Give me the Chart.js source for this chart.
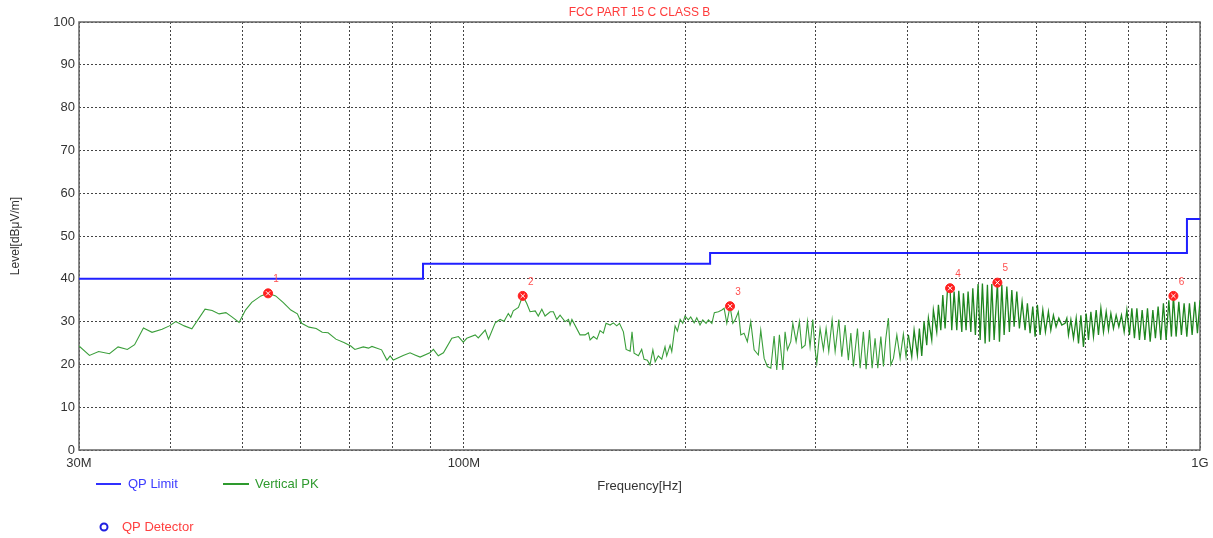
<!DOCTYPE html>
<html><head><meta charset="utf-8">
<script src="https://cdn.jsdelivr.net/npm/chart.js@4"></script>
<style>html,body{margin:0;padding:0;background:#fff;overflow:hidden}canvas{display:block}</style>
</head><body>
<canvas id="c" width="1213" height="538"></canvas>
<script>
const chartTitle = 'FCC PART 15 C CLASS B';
const xAxisTitle = 'Frequency[Hz]';
const yAxisTitle = 'Level[dBμV/m]';
const xTickValues = [30,40,50,60,70,80,90,100,200,300,400,500,600,700,800,900,1000];
const xTickLabels = {30:'30M',100:'100M',1000:'1G'};
const limitFreq = [30, 88, 88, 216, 216, 960, 960, 1000];
const limitLevel = [40, 40, 43.5, 43.5, 46, 46, 54, 54];
const pkFreq = [
30.0,31.0,31.9,33.0,33.9,34.9,35.7,36.7,37.7,38.9,39.8,40.6,41.7,42.7,44.5,45.5,46.5,47.5,48.5,49.5,
50.5,51.5,53.0,54.2,55.5,56.8,58.2,59.4,60.2,61.6,63.0,64.2,65.4,67.0,68.7,70.2,71.1,73.0,74.2,75.0,
77.3,78.6,79.4,80.2,82.7,84.5,85.8,87.2,89.9,90.9,92.3,93.8,96.3,98.3,99.8,100.9,103.6,104.6,106.9,108.0,
110.3,112.0,113.4,114.9,115.8,116.7,118.6,120.2,121.7,123.0,125.0,126.2,127.6,128.9,131.0,132.3,133.7,135.1,137.2,138.7,
139.4,140.2,143.8,146.1,147.6,148.4,150.0,151.6,153.1,154.7,156.0,158.0,159.6,161.3,162.7,164.7,166.1,168.2,169.2,170.3,
172.6,174.4,175.7,177.5,179.0,180.6,181.9,183.7,185.7,187.6,188.6,190.6,191.6,193.6,195.0,196.7,198.3,199.7,201.8,203.3,
205.5,207.2,209.3,211.1,213.3,214.9,217.2,218.9,221.7,224.1,225.7,227.6,229.9,231.9,233.6,236.0,237.8,240.2,242.7,245.3,
247.9,251.2,253.1,255.8,258.4,261.2,263.9,266.1,268.3,271.2,273.1,275.1,278.0,279.8,282.7,285.6,287.8,290.8,292.9,295.3,
297.8,300.0,301.6,304.7,307.9,310.5,313.1,316.4,319.4,323.1,326.1,329.5,332.9,335.5,338.2,342.5,345.4,348.9,351.9,355.6,
358.6,361.9,365.0,368.5,371.5,374.3,377.3,380.2,383.3,387.4,391.4,395.4,398.7,401.6,405.9,408.9,413.1,415.7,418.8,421.8,
425.4,427.6,432.1,434.3,438.9,441.2,444.5,447.3,450.5,453.8,457.6,460.0,463.4,467.3,470.2,474.7,477.1,481.1,484.1,488.3,
491.3,495.3,499.5,502.7,506.3,510.6,514.3,517.5,521.4,525.2,530.6,534.0,538.0,541.9,546.5,550.9,555.1,559.1,563.8,568.4,
573.2,578.6,582.8,587.7,592.7,597.0,601.3,606.4,611.6,616.6,622.4,627.1,632.2,637.5,643.0,649.0,655.7,659.3,662.7,667.7,
673.2,678.9,683.8,688.9,694.5,700.4,705.5,710.8,716.6,722.7,727.9,733.4,739.4,745.7,751.1,756.7,762.8,769.3,775.8,782.2,
788.8,795.5,802.0,808.0,814.6,820.8,827.5,834.5,841.6,848.5,855.7,862.9,869.8,877.2,884.6,891.9,899.4,907.1,914.5,920.2,
928.0,935.9,943.5,951.5,959.6,967.5,975.7,983.9,992.0,1000
];
const pkLevel = [
24.3,22.1,23.0,22.5,24.1,23.5,24.6,28.5,27.5,28.2,29.0,30.0,29.0,28.3,32.9,32.6,31.8,32.1,31.0,29.8,
32.7,34.5,36.0,36.6,36.0,34.5,32.7,31.8,29.6,28.7,28.4,27.5,27.4,25.9,25.1,24.3,23.5,24.1,23.8,24.2,
23.4,21.0,22.0,21.0,22.1,22.7,22.2,21.7,22.7,23.5,22.0,22.7,26.1,26.5,25.2,26.1,26.9,26.2,28.0,25.9,
29.7,30.5,30.1,31.9,31.0,32.5,33.3,36.0,34.3,32.3,32.5,31.3,32.9,31.3,32.3,32.3,30.5,31.5,30.0,30.5,
29.2,30.5,26.9,26.9,27.4,25.7,26.5,25.9,27.9,27.3,29.6,29.2,29.7,29.0,29.6,27.6,23.5,23.1,27.6,22.6,
22.0,23.5,21.2,21.0,19.9,23.4,20.6,22.0,21.2,24.1,22.0,24.5,23.0,29.0,27.8,30.5,29.6,31.3,30.4,31.1,
29.7,30.9,29.2,30.4,29.6,30.4,29.6,32.1,32.3,32.7,33.1,29.6,33.6,29.6,30.4,32.3,26.9,27.3,25.3,30.0,
23.4,22.2,28.0,21.4,19.5,19.1,26.6,18.7,26.9,18.7,27.6,23.4,25.3,29.6,25.3,30.0,23.8,24.5,30.0,24.1,
30.5,23.4,20.3,28.4,23.4,28.4,23.0,30.4,23.0,30.5,21.8,29.2,21.0,27.3,19.5,28.4,19.1,27.6,18.9,28.0,
19.1,26.1,19.1,26.5,19.5,26.1,30.8,19.9,21.4,26.9,21.4,27.1,21.8,26.9,21.8,28.0,22.2,28.4,22.0,30.0,
24.5,30.8,25.7,32.7,27.6,33.9,28.0,36.2,28.4,37.2,37.8,28.0,37.0,28.0,37.2,27.6,36.6,28.0,37.0,27.6,
37.8,26.9,38.8,25.7,38.9,24.9,38.6,25.3,38.8,25.7,39.1,25.3,38.6,26.9,38.2,27.6,37.4,28.8,37.0,28.4,
34.6,28.0,34.3,27.3,33.5,26.5,33.9,26.9,32.7,27.6,32.3,28.0,31.5,28.8,30.8,29.2,29.6,30.8,26.9,30.4,
26.1,30.8,24.9,31.5,24.1,31.9,25.7,32.3,26.5,32.7,26.9,33.1,27.6,32.3,28.0,31.9,28.4,31.5,28.8,31.5,
27.6,32.7,26.9,33.1,26.1,33.1,25.7,32.7,25.7,33.1,25.3,32.7,26.1,33.5,25.7,34.3,25.7,35.0,26.5,36.0,
26.5,34.6,26.9,34.3,26.5,34.3,26.9,34.6,27.3,35.0
];
const markerFreq = [54.2, 120.2, 229.9, 457.6, 530.6, 920.2];
const markerLevel = [36.6, 36.0, 33.6, 37.8, 39.1, 36.0];
const markerLabels = ['1','2','3','4','5','6'];

const FONT = "'Liberation Sans', Arial, sans-serif";
Chart.defaults.font.family = FONT;

const toXY = (xs, ys) => xs.map((x, i) => ({x, y: ys[i]}));

const overlay = {
  id: 'overlay',
  beforeDatasetsDraw(chart) {
    const {ctx, chartArea: a} = chart;
    ctx.save();
    ctx.strokeStyle = '#666';
    ctx.lineWidth = 1.5;
    ctx.strokeRect(a.left, a.top, a.right - a.left, a.bottom - a.top);
    ctx.restore();
  },
  afterDraw(chart) {
    const {ctx, chartArea: a, scales} = chart;
    ctx.save();
    ctx.fillStyle = '#ff3b3b';
    ctx.font = '12px ' + FONT;
    ctx.textAlign = 'center';
    ctx.textBaseline = 'middle';
    ctx.fillText(chartTitle, (a.left + a.right) / 2, 13);
    ctx.font = '10px ' + FONT;
    ctx.fillStyle = '#ff5050';
    markerFreq.forEach((f, i) => {
      const px = scales.x.getPixelForValue(f);
      const py = scales.y.getPixelForValue(markerLevel[i]);
      ctx.fillText(markerLabels[i], px + 8, py - 14);
    });
    ctx.textAlign = 'left';
    ctx.font = '13px ' + FONT;
    ctx.lineWidth = 2;
    ctx.strokeStyle = '#3030ff';
    ctx.beginPath(); ctx.moveTo(96, 484); ctx.lineTo(121, 484); ctx.stroke();
    ctx.fillStyle = '#3b3bff';
    ctx.fillText('QP Limit', 128, 484);
    ctx.strokeStyle = '#2e9a2e';
    ctx.beginPath(); ctx.moveTo(223, 484); ctx.lineTo(249, 484); ctx.stroke();
    ctx.fillStyle = '#2e9a2e';
    ctx.fillText('Vertical PK', 255, 484);
    ctx.strokeStyle = '#2020e0';
    ctx.beginPath(); ctx.arc(104, 527, 3.5, 0, Math.PI * 2); ctx.stroke();
    ctx.fillStyle = '#ff4040';
    ctx.fillText('QP Detector', 122, 527);
    ctx.restore();
  }
};

new Chart(document.getElementById('c'), {
  type: 'scatter',
  data: {
    datasets: [
      { label: 'marks', data: toXY(markerFreq, markerLevel), pointStyle: 'crossRot', pointRadius: 3,
        borderColor: '#ffffff', backgroundColor: '#ffffff', borderWidth: 1, showLine: false, order: 0 },
      { label: 'markbg', data: toXY(markerFreq, markerLevel), pointStyle: 'circle', pointRadius: 4.5,
        borderColor: '#ff2020', backgroundColor: '#ff2020', borderWidth: 1, showLine: false, order: 1 },
      { label: 'QP Limit', data: toXY(limitFreq, limitLevel), showLine: true, borderColor: '#2020ff',
        borderWidth: 2, pointRadius: 0, tension: 0, order: 2 },
      { label: 'Vertical PK', data: toXY(pkFreq, pkLevel), showLine: true, borderColor: '#3a9e3a',
        borderWidth: 1.1, pointRadius: 0, tension: 0, order: 3,
        segment: { borderColor: c => c.p0.parsed.x > 400 ? '#1f861f' : '#3a9e3a',
                   borderWidth: c => c.p0.parsed.x > 400 ? 1.3 : 1.1 } }
    ]
  },
  options: {
    responsive: false,
    animation: false,
    devicePixelRatio: 1,
    layout: { padding: { top: 22, right: 13, bottom: 0, left: 0 } },
    plugins: { legend: { display: false }, tooltip: { enabled: false }, title: { display: false } },
    scales: {
      x: {
        type: 'logarithmic', min: 30, max: 1000,
        afterBuildTicks: s => { s.ticks = xTickValues.map(v => ({ value: v })); },
        afterFit: s => { s.height = 88; s.paddingLeft = 0; s.paddingRight = 0; },
        ticks: {
          autoSkip: false, maxRotation: 0, minRotation: 0, padding: 6,
          color: '#333', font: { size: 13 },
          callback: v => xTickLabels[v] || ''
        },
        grid: { color: '#444', lineWidth: 1, drawTicks: false },
        border: { display: false, dash: [2, 2] },
        title: { display: true, text: xAxisTitle, color: '#333', font: { size: 13 }, padding: { top: 0, bottom: 44 } }
      },
      y: {
        min: 0, max: 100,
        afterFit: s => { s.width = 79; s.paddingTop = 0; s.paddingBottom = 0; },
        ticks: { stepSize: 10, padding: 4, color: '#333', font: { size: 13 } },
        grid: { color: '#444', lineWidth: 1, drawTicks: false },
        border: { display: false, dash: [2, 2] },
        title: { display: true, text: yAxisTitle, color: '#333', font: { size: 12 }, padding: { top: 8, bottom: 0 } }
      }
    }
  },
  plugins: [overlay]
});
</script>
</body></html>
